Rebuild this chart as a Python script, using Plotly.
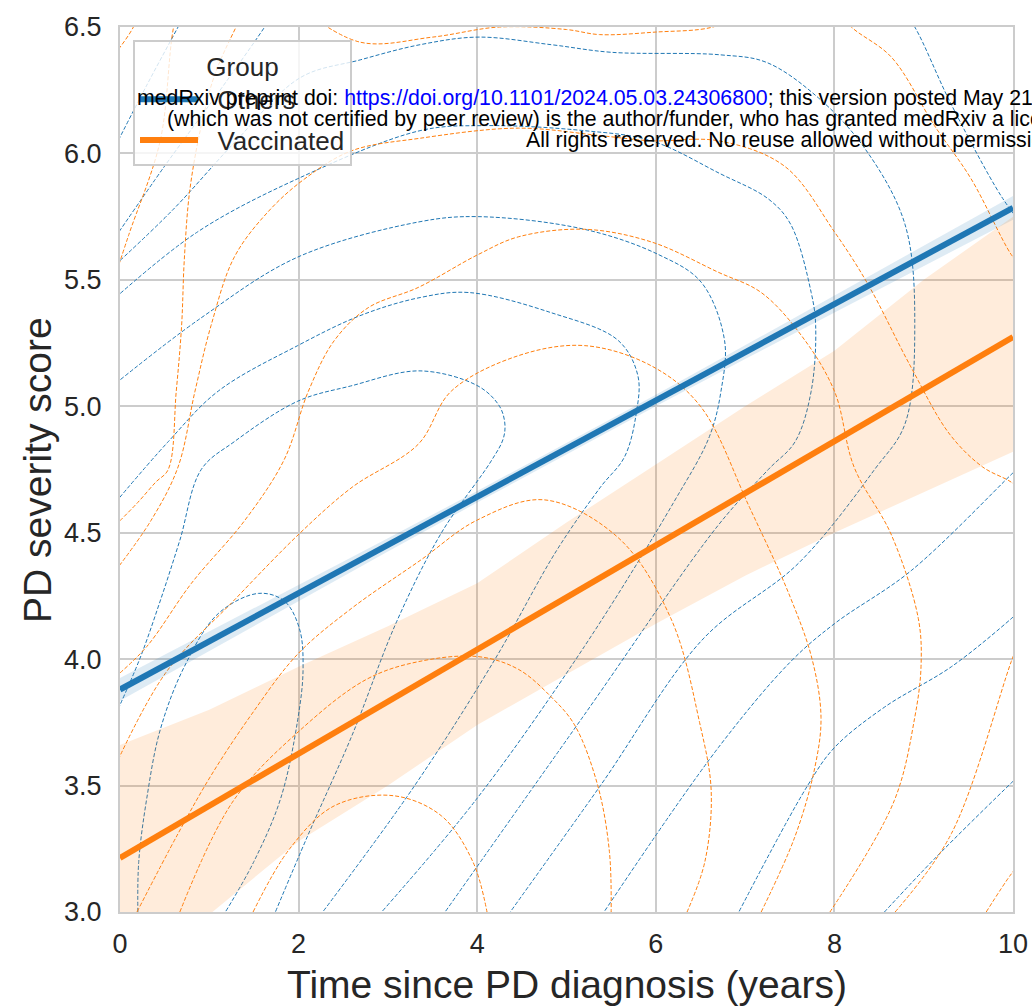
import plotly.graph_objects as go

# ---------------- data ----------------
groups = ["Others", "Vaccinated"]
group_colors = ["#1f77b4", "#ff7f0e"]
band_colors = ["rgba(31,119,180,0.15)", "rgba(255,127,14,0.15)"]

years = [0, 1, 2, 3, 4, 5, 6, 7, 8, 9, 10]
others_fit = [3.880, 4.071, 4.261, 4.452, 4.642, 4.833, 5.023, 5.214, 5.404, 5.595, 5.785]
others_hi = [3.925, 4.109, 4.292, 4.478, 4.665, 4.855, 5.046, 5.241, 5.437, 5.635, 5.832]
others_lo = [3.835, 4.033, 4.230, 4.426, 4.619, 4.811, 5.000, 5.187, 5.371, 5.555, 5.738]
vacc_fit = [3.214, 3.420, 3.626, 3.832, 4.038, 4.244, 4.450, 4.656, 4.862, 5.068, 5.274]
vacc_hi = [3.66, 3.80, 3.97, 4.13, 4.30, 4.54, 4.77, 5.00, 5.22, 5.50, 5.75]
vacc_lo = [2.76, 2.99, 3.28, 3.50, 3.74, 3.94, 4.14, 4.33, 4.50, 4.66, 4.82]

# KDE iso-lines (traced), one list per line
others_kde_x = [
    [0.20, 0.21, 0.30, 0.45, 0.72, 1.10, 1.55, 1.84, 2.01, 2.05, 1.99, 1.80, 1.50, 1.18],
    [-0.05, 0.22, 0.45, 0.67, 0.91, 1.28, 1.99, 2.58, 3.36, 4.01, 4.25, 4.31, 4.29, 4.15, 3.60, 3.10, 2.60, 2.10, 1.74],
    [-0.05, 0.54, 1.10, 1.99, 2.70, 3.36, 3.90, 4.83, 5.58, 5.80, 5.78, 5.65, 5.38, 4.89, 4.20, 3.30, 2.27],
    [-0.05, 0.91, 1.99, 3.36, 4.01, 5.20, 6.03, 6.51, 6.77, 6.73, 6.60, 6.20, 5.20, 4.00, 2.93],
    [-0.05, 0.87, 1.99, 3.36, 4.08, 5.20, 5.95, 6.72, 7.26, 7.51, 7.74, 7.79, 7.74, 7.56, 7.26, 6.70, 5.20, 3.64],
    [-0.05, 0.60, 1.30, 2.02, 2.69, 3.36, 4.01, 4.83, 5.50, 6.72, 7.24, 7.82, 8.34, 8.79, 8.90, 8.79, 8.45, 7.60, 6.53, 5.38, 4.37],
    [-0.05, 0.50, 1.10, 1.62, 1.80],
    [8.70, 8.90, 9.30, 9.87, 10.1],
    [10.1, 9.98, 8.86, 8.00, 7.51, 6.70, 5.42],
    [-0.05, 0.30, 0.65, 0.80],
    [10.1, 9.98, 9.31, 8.56, 8.00, 7.70, 6.93],
    [10.1, 9.98, 9.12, 8.56],
]
others_kde_y = [
    [3.00, 3.20, 3.45, 3.72, 3.97, 4.18, 4.26, 4.23, 4.12, 3.96, 3.76, 3.45, 3.20, 3.00],
    [3.78, 4.00, 4.23, 4.47, 4.75, 4.86, 5.02, 5.08, 5.14, 5.08, 5.00, 4.93, 4.87, 4.78, 4.50, 4.15, 3.70, 3.30, 3.00],
    [4.62, 4.86, 5.06, 5.24, 5.36, 5.43, 5.45, 5.37, 5.26, 5.12, 4.97, 4.80, 4.68, 4.43, 4.00, 3.50, 3.00],
    [5.09, 5.35, 5.59, 5.73, 5.75, 5.70, 5.60, 5.49, 5.26, 5.06, 4.88, 4.62, 4.05, 3.45, 3.00],
    [5.43, 5.69, 5.90, 6.09, 6.11, 6.09, 6.05, 5.92, 5.82, 5.72, 5.45, 5.32, 5.06, 4.86, 4.75, 4.53, 3.78, 3.00],
    [5.56, 5.78, 6.05, 6.30, 6.37, 6.43, 6.46, 6.43, 6.40, 6.39, 6.36, 6.22, 6.02, 5.72, 5.32, 4.93, 4.75, 4.38, 4.08, 3.50, 3.00],
    [5.67, 5.95, 6.24, 6.50, 6.60],
    [6.60, 6.50, 6.20, 5.83, 5.72],
    [4.77, 4.73, 4.35, 4.14, 3.99, 3.65, 3.00],
    [6.03, 6.27, 6.50, 6.60],
    [4.20, 4.16, 3.97, 3.81, 3.65, 3.50, 3.00],
    [3.55, 3.51, 3.21, 3.00],
]

vacc_kde_x = [
    [1.49, 1.90, 2.40, 3.06, 3.60, 3.95, 4.11],
    [0.67, 1.27, 2.02, 2.76, 3.34, 4.01, 4.46, 4.83, 5.09, 5.35, 5.48, 5.50],
    [0.19, 0.65, 1.02, 1.47, 1.99, 2.59, 3.36, 4.00, 4.75, 5.58, 6.17, 6.49, 6.62, 6.55, 6.35],
    [-0.05, 0.52, 1.27, 2.02, 2.60, 3.34, 3.71, 4.46, 5.20, 5.95, 6.50, 7.05, 7.50, 7.75, 7.85, 7.78, 7.56, 7.18],
    [-0.05, 0.30, 0.80, 1.40, 1.84, 2.11, 2.40, 2.78, 3.34, 4.01, 4.46, 5.20, 5.95, 6.70, 7.18, 7.63, 8.00, 8.22, 8.64, 8.94, 8.97, 8.90, 8.67, 7.95],
    [-0.05, 0.35, 0.65, 0.84, 1.02, 1.28, 1.66, 2.07, 2.59, 3.36, 4.46, 5.39, 5.95, 6.70, 7.44, 8.00, 8.38, 8.85, 9.29, 9.66, 9.98, 10.1],
    [-0.05, 0.20, 0.40, 0.54, 0.63, 0.69, 0.72, 0.78, 0.91, 1.06, 1.30, 1.60],
    [2.00, 2.69, 3.50, 4.25, 5.00, 5.37, 6.00, 6.64, 7.00],
    [8.00, 8.19, 8.64, 9.12, 9.53, 9.98, 10.1],
    [0.75, 0.60, 0.45, 0.10, -0.05],
    [0.20, 0.15, 0.00, -0.05],
    [8.68, 9.31, 9.98, 10.1],
    [9.70, 9.98, 10.1],
]
vacc_kde_y = [
    [3.00, 3.25, 3.42, 3.46, 3.38, 3.20, 3.00],
    [3.00, 3.44, 3.72, 3.92, 3.99, 4.01, 3.96, 3.85, 3.74, 3.50, 3.24, 3.00],
    [3.00, 3.31, 3.54, 3.78, 4.02, 4.20, 4.39, 4.55, 4.63, 4.48, 4.16, 3.75, 3.48, 3.20, 3.00],
    [3.58, 3.95, 4.23, 4.50, 4.68, 4.85, 5.06, 5.20, 5.24, 5.16, 5.00, 4.60, 4.25, 4.00, 3.77, 3.57, 3.30, 3.00],
    [3.93, 4.05, 4.30, 4.55, 4.79, 5.06, 5.26, 5.39, 5.47, 5.60, 5.67, 5.70, 5.65, 5.53, 5.45, 5.28, 5.06, 4.76, 4.49, 4.16, 3.97, 3.77, 3.44, 3.00],
    [4.35, 4.55, 4.76, 5.06, 5.32, 5.59, 5.77, 5.90, 6.01, 6.06, 6.10, 6.07, 6.05, 6.05, 5.95, 5.69, 5.48, 5.16, 4.89, 4.76, 4.70, 4.66],
    [4.53, 4.62, 4.70, 4.75, 5.06, 5.32, 5.58, 5.85, 6.11, 6.31, 6.50, 6.70],
    [6.58, 6.44, 6.46, 6.50, 6.49, 6.47, 6.48, 6.50, 6.56],
    [6.58, 6.50, 6.38, 6.11, 5.90, 5.60, 5.55],
    [6.70, 6.50, 6.05, 5.68, 5.52],
    [6.55, 6.50, 6.42, 6.40],
    [3.00, 3.31, 3.99, 4.10],
    [3.00, 3.15, 3.20],
]

x_ticks = [0, 2, 4, 6, 8, 10]
y_ticks = [3.0, 3.5, 4.0, 4.5, 5.0, 5.5, 6.0, 6.5]
x_title = "Time since PD diagnosis (years)"
y_title = "PD severity score"
legend_title = "Group"

watermark = [
    "medRxiv preprint doi: <span style='color:#0000ff'>https://doi.org/10.1101/2024.05.03.24306800</span>; "
    "this version posted May 21, 2024. The copyright holder for this preprint",
    "(which was not certified by peer review) is the author/funder, who has granted medRxiv a license "
    "to display the preprint in perpetuity.",
    "All rights reserved. No reuse allowed without permission.",
]

# ---------------- figure ----------------
FONT = "Liberation Sans, Arial, sans-serif"
TXT = "#262626"
W, H = 1032, 1007
L, R, T, B = 120, 19, 27, 95
PW, PH = W - L - R, H - T - B


def px_x(p):
    return (p - L) / PW


def px_y(p):
    return (H - B - p) / PH


def joined(xs_list, ys_list):
    xs, ys = [], []
    for a, b in zip(xs_list, ys_list):
        xs += a + [None]
        ys += b + [None]
    return xs, ys


fig = go.Figure()

for kx, ky, col in [(others_kde_x, others_kde_y, group_colors[0]),
                    (vacc_kde_x, vacc_kde_y, group_colors[1])]:
    xs, ys = joined(kx, ky)
    fig.add_trace(go.Scatter(x=xs, y=ys, mode="lines", showlegend=False, hoverinfo="skip",
                             line=dict(color=col, width=1, dash="4px,2px", shape="spline", smoothing=1.0)))

for lo, hi, bc in [(others_lo, others_hi, band_colors[0]), (vacc_lo, vacc_hi, band_colors[1])]:
    fig.add_trace(go.Scatter(x=years + years[::-1], y=hi + lo[::-1], fill="toself", mode="lines",
                             line=dict(width=0), fillcolor=bc, showlegend=False, hoverinfo="skip"))

for name, fit, col in [(groups[0], others_fit, group_colors[0]), (groups[1], vacc_fit, group_colors[1])]:
    fig.add_trace(go.Scatter(x=years, y=fit, mode="lines", name="\u00a0\u00a0" + name, legendgroup=name,
                             line=dict(color=col, width=6)))

axis_common = dict(showgrid=True, gridcolor="#cccccc", gridwidth=1.5, zeroline=False,
                   showline=True, mirror=True, linecolor="#cccccc", linewidth=2,
                   ticks="", automargin=False, tickfont=dict(family=FONT, size=27, color=TXT))

fig.update_xaxes(range=[0, 10], tickvals=x_ticks, ticktext=[str(v) for v in x_ticks],
                 ticklabelstandoff=7, **axis_common)
fig.update_yaxes(range=[3.0, 6.5], tickvals=y_ticks, ticktext=[f"{v:.1f}" for v in y_ticks],
                 ticklabelstandoff=11, **axis_common)

annotations = [
    dict(text=x_title, x=0.5, y=px_y(984), xref="paper", yref="paper", showarrow=False,
         xanchor="center", yanchor="middle", font=dict(family=FONT, size=39, color=TXT)),
    dict(text=y_title, x=px_x(37), y=px_y(470), xref="paper", yref="paper", showarrow=False,
         textangle=-90, xanchor="center", yanchor="middle", font=dict(family=FONT, size=39, color=TXT)),
]
for txt, sx, sy in zip(watermark, [135, 165, 524], [98, 119, 140]):
    annotations.append(dict(text=txt, x=px_x(sx), y=px_y(sy), xref="paper", yref="paper",
                            showarrow=False, xanchor="left", yanchor="middle",
                            font=dict(family=FONT, size=21.3, color="black")))

fig.update_layout(
    width=W, height=H, margin=dict(l=L, r=R, t=T, b=B, autoexpand=False),
    plot_bgcolor="white", paper_bgcolor="white",
    font=dict(family=FONT, color=TXT),
    annotations=annotations,
    legend=dict(title=dict(text=legend_title, side="top center", font=dict(size=26, color=TXT)),
                x=px_x(133), y=px_y(40), xanchor="left", yanchor="top",
                itemwidth=58, tracegroupgap=4,
                bgcolor="rgba(255,255,255,0.8)", bordercolor="#cccccc", borderwidth=2,
                font=dict(family=FONT, size=26, color=TXT)),
)

fig.write_html("out.html", config={"displayModeBar": False},
               post_script="document.body.style.margin='0px';document.body.style.overflow='hidden';")
